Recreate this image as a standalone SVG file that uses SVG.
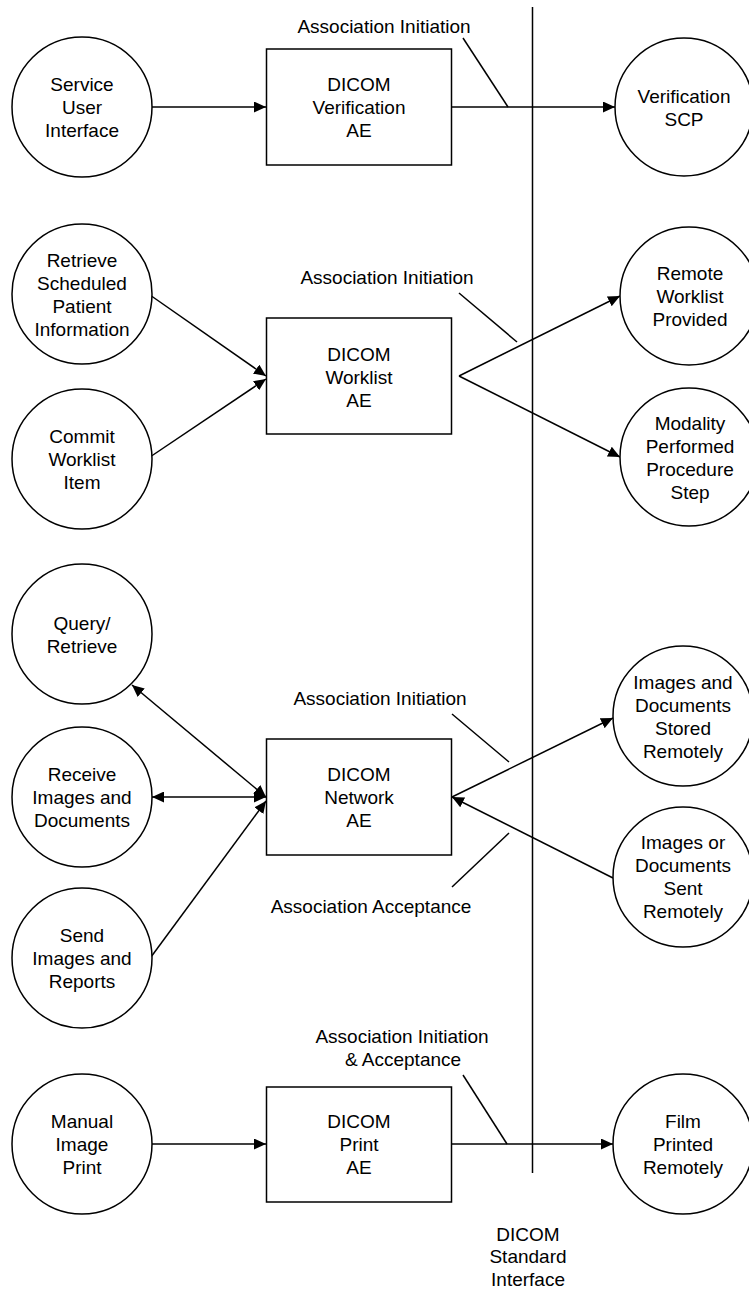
<svg xmlns="http://www.w3.org/2000/svg" width="749" height="1290" viewBox="0 0 749 1290">
<style>
  .n { fill: #ffffff; stroke: #000000; stroke-width: 1.5; }
  .t { font-family: "Liberation Sans", Arial, sans-serif; font-size: 19px; fill: #000000; text-anchor: middle; }
  .c { fill: none; stroke: #000000; stroke-width: 1.5; }
</style>
<defs>
  <marker id="ah" markerWidth="12" markerHeight="11" refX="12" refY="5.5" orient="auto" markerUnits="userSpaceOnUse">
    <path d="M0,0 L12,5.5 L0,11 Z" fill="#000000"/>
  </marker>
  <marker id="as" markerWidth="12" markerHeight="11" refX="0" refY="5.5" orient="auto" markerUnits="userSpaceOnUse">
    <path d="M12,0 L0,5.5 L12,11 Z" fill="#000000"/>
  </marker>
</defs>

<g id="connectors">
  <line class="c" x1="532.5" y1="7" x2="532.5" y2="1173"/>
  <line class="c" x1="152" y1="107" x2="266" y2="107" marker-end="url(#ah)"/>
  <line class="c" x1="452" y1="107" x2="615" y2="107" marker-end="url(#ah)"/>
  <line class="c" x1="150" y1="295" x2="266" y2="376" marker-end="url(#ah)"/>
  <line class="c" x1="150" y1="457" x2="266" y2="379" marker-end="url(#ah)"/>
  <line class="c" x1="459" y1="376" x2="620" y2="296" marker-end="url(#ah)"/>
  <line class="c" x1="459" y1="376" x2="620" y2="457" marker-end="url(#ah)"/>
  <line class="c" x1="132" y1="685" x2="266" y2="797" marker-start="url(#as)" marker-end="url(#ah)"/>
  <line class="c" x1="152" y1="797" x2="266" y2="797" marker-start="url(#as)" marker-end="url(#ah)"/>
  <line class="c" x1="151" y1="957" x2="266" y2="801" marker-end="url(#ah)"/>
  <line class="c" x1="452" y1="797" x2="613" y2="718" marker-end="url(#ah)"/>
  <line class="c" x1="613" y1="878" x2="452" y2="797" marker-end="url(#ah)"/>
  <line class="c" x1="152" y1="1144" x2="266" y2="1144" marker-end="url(#ah)"/>
  <line class="c" x1="452" y1="1144" x2="613" y2="1144" marker-end="url(#ah)"/>
  <line class="c" x1="463" y1="38" x2="508" y2="107"/>
  <line class="c" x1="459" y1="293" x2="517" y2="342"/>
  <line class="c" x1="452" y1="714" x2="509" y2="762"/>
  <line class="c" x1="452" y1="887" x2="509" y2="833"/>
  <line class="c" x1="463" y1="1075" x2="507" y2="1144"/>
</g>

<g id="labels">
  <text class="t" x="384" y="33">Association Initiation</text>
  <text class="t" x="387" y="284">Association Initiation</text>
  <text class="t" x="380" y="705">Association Initiation</text>
  <text class="t" x="371" y="913">Association Acceptance</text>
  <text class="t" x="402" y="1043">Association Initiation</text>
  <text class="t" x="403" y="1066">&amp; Acceptance</text>
  <text class="t" x="528" y="1241">DICOM</text>
  <text class="t" x="528" y="1263">Standard</text>
  <text class="t" x="528" y="1286">Interface</text>
</g>

<g id="service-user-interface">
  <circle class="n" cx="82" cy="107" r="70"/>
  <text class="t" x="82" y="91">Service</text>
  <text class="t" x="82" y="114">User</text>
  <text class="t" x="82" y="137">Interface</text>
</g>
<g id="dicom-verification-ae">
  <rect class="n" x="266.5" y="49" width="185" height="116"/>
  <text class="t" x="359" y="91">DICOM</text>
  <text class="t" x="359" y="114">Verification</text>
  <text class="t" x="359" y="137">AE</text>
</g>
<g id="verification-scp">
  <circle class="n" cx="684" cy="107" r="69"/>
  <text class="t" x="684" y="102.5">Verification</text>
  <text class="t" x="684" y="125.5">SCP</text>
</g>

<g id="retrieve-scheduled">
  <circle class="n" cx="82" cy="294" r="70"/>
  <text class="t" x="82" y="267">Retrieve</text>
  <text class="t" x="82" y="290">Scheduled</text>
  <text class="t" x="82" y="313">Patient</text>
  <text class="t" x="82" y="336">Information</text>
</g>
<g id="commit-worklist-item">
  <circle class="n" cx="82" cy="459" r="70"/>
  <text class="t" x="82" y="443">Commit</text>
  <text class="t" x="82" y="466">Worklist</text>
  <text class="t" x="82" y="489">Item</text>
</g>
<g id="dicom-worklist-ae">
  <rect class="n" x="266.5" y="318" width="185" height="116"/>
  <text class="t" x="359" y="361">DICOM</text>
  <text class="t" x="359" y="384">Worklist</text>
  <text class="t" x="359" y="407">AE</text>
</g>
<g id="remote-worklist-provided">
  <circle class="n" cx="689" cy="296" r="69"/>
  <text class="t" x="690" y="280">Remote</text>
  <text class="t" x="690" y="303">Worklist</text>
  <text class="t" x="690" y="326">Provided</text>
</g>
<g id="modality-pps">
  <circle class="n" cx="689" cy="457" r="69"/>
  <text class="t" x="690" y="430">Modality</text>
  <text class="t" x="690" y="453">Performed</text>
  <text class="t" x="690" y="476">Procedure</text>
  <text class="t" x="690" y="499">Step</text>
</g>

<g id="query-retrieve">
  <circle class="n" cx="82" cy="634" r="70"/>
  <text class="t" x="82" y="630">Query/</text>
  <text class="t" x="82" y="653">Retrieve</text>
</g>
<g id="receive-images">
  <circle class="n" cx="82" cy="797" r="70"/>
  <text class="t" x="82" y="781">Receive</text>
  <text class="t" x="82" y="804">Images and</text>
  <text class="t" x="82" y="827">Documents</text>
</g>
<g id="send-images">
  <circle class="n" cx="82" cy="958" r="70"/>
  <text class="t" x="82" y="942">Send</text>
  <text class="t" x="82" y="965">Images and</text>
  <text class="t" x="82" y="988">Reports</text>
</g>
<g id="dicom-network-ae">
  <rect class="n" x="266.5" y="739" width="185" height="116"/>
  <text class="t" x="359" y="781">DICOM</text>
  <text class="t" x="359" y="804">Network</text>
  <text class="t" x="359" y="827">AE</text>
</g>
<g id="images-stored-remotely">
  <circle class="n" cx="683" cy="716" r="70"/>
  <text class="t" x="683" y="689">Images and</text>
  <text class="t" x="683" y="712">Documents</text>
  <text class="t" x="683" y="735">Stored</text>
  <text class="t" x="683" y="758">Remotely</text>
</g>
<g id="images-sent-remotely">
  <circle class="n" cx="683" cy="877" r="70"/>
  <text class="t" x="683" y="849">Images or</text>
  <text class="t" x="683" y="872">Documents</text>
  <text class="t" x="683" y="895">Sent</text>
  <text class="t" x="683" y="918">Remotely</text>
</g>

<g id="manual-image-print">
  <circle class="n" cx="82" cy="1144" r="70"/>
  <text class="t" x="82" y="1128">Manual</text>
  <text class="t" x="82" y="1151">Image</text>
  <text class="t" x="82" y="1174">Print</text>
</g>
<g id="dicom-print-ae">
  <rect class="n" x="266.5" y="1087" width="185" height="115"/>
  <text class="t" x="359" y="1128">DICOM</text>
  <text class="t" x="359" y="1151">Print</text>
  <text class="t" x="359" y="1174">AE</text>
</g>
<g id="film-printed-remotely">
  <circle class="n" cx="683" cy="1144" r="70"/>
  <text class="t" x="683" y="1128">Film</text>
  <text class="t" x="683" y="1151">Printed</text>
  <text class="t" x="683" y="1174">Remotely</text>
</g>
</svg>
